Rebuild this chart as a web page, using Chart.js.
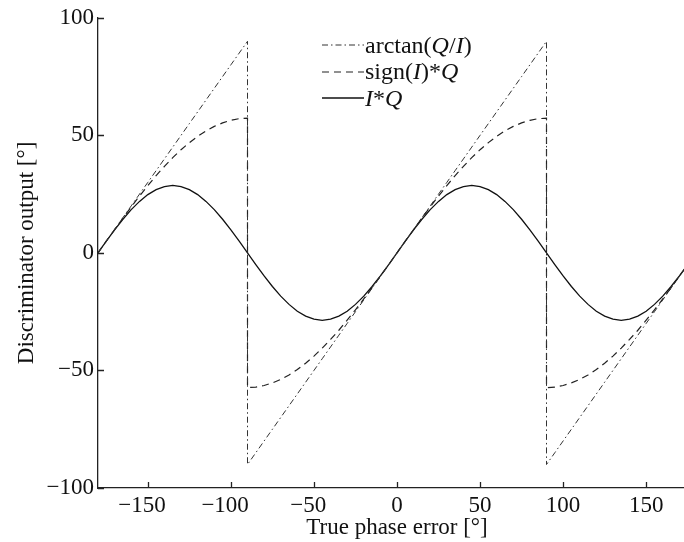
<!DOCTYPE html>
<html>
<head>
<meta charset="utf-8">
<script src="https://cdn.jsdelivr.net/npm/chart.js@4.4.1/dist/chart.umd.min.js"></script>
<style>
  html, body { margin: 0; padding: 0; background: #fff; overflow: hidden; }
  #wrap { position: relative; width: 696px; height: 542px; }
  #legend { position: absolute; left: 322px; top: 32px; font-family: 'Liberation Serif', 'Times New Roman', serif; font-size: 24px; color: #111; }
  #legend div { height: 26.5px; display: flex; align-items: center; white-space: nowrap; }
  #legend svg { width: 42px; height: 4px; margin-right: 1px; }
  #legend i { font-style: italic; }
</style>
</head>
<body>
<div id="wrap">
  <canvas id="chart" width="696" height="542"></canvas>
  <div id="legend">
    <div><svg><line x1="0" y1="2" x2="42" y2="2" stroke="#333" stroke-width="1" stroke-dasharray="6 3 1.5 3"/></svg>arctan(<i>Q</i>/<i>I</i>)</div>
    <div><svg><line x1="0" y1="2" x2="42" y2="2" stroke="#222" stroke-width="1.2" stroke-dasharray="7 5"/></svg>sign(<i>I</i>)*<i>Q</i></div>
    <div><svg><line x1="0" y1="2" x2="42" y2="2" stroke="#111" stroke-width="1.3"/></svg><i>I</i>*<i>Q</i></div>
  </div>
</div>
<script>
// true phase error [deg]; -90 and 90 appear twice for the jumps
const phase = [
  -180, -175, -170, -165, -160, -155, -150, -145, -140, -135, -130, -125, -120, -115, -110, -105, -100, -95, -90,
  -90, -85, -80, -75, -70, -65, -60, -55, -50, -45, -40, -35, -30, -25, -20, -15, -10, -5, 0,
  5, 10, 15, 20, 25, 30, 35, 40, 45, 50, 55, 60, 65, 70, 75, 80, 85, 90,
  90, 95, 100, 105, 110, 115, 120, 125, 130, 135, 140, 145, 150, 155, 160, 165, 170, 175, 180
]

const arctanOut = [
  0, 5, 10, 15, 20, 25, 30, 35, 40, 45, 50, 55, 60, 65, 70, 75, 80, 85, 90,
  -90, -85, -80, -75, -70, -65, -60, -55, -50, -45, -40, -35, -30, -25, -20, -15, -10, -5, 0,
  5, 10, 15, 20, 25, 30, 35, 40, 45, 50, 55, 60, 65, 70, 75, 80, 85, 90,
  -90, -85, -80, -75, -70, -65, -60, -55, -50, -45, -40, -35, -30, -25, -20, -15, -10, -5, 0
]

const signQOut = [
  0, 5.0, 9.9, 14.8, 19.6, 24.2, 28.6, 32.9, 36.8, 40.5, 43.9, 46.9, 49.6, 51.9, 53.8, 55.3, 56.4, 57.1, 57.3,
  -57.3, -57.1, -56.4, -55.3, -53.8, -51.9, -49.6, -46.9, -43.9, -40.5, -36.8, -32.9, -28.6, -24.2, -19.6, -14.8, -9.9, -5.0, 0,
  5.0, 9.9, 14.8, 19.6, 24.2, 28.6, 32.9, 36.8, 40.5, 43.9, 46.9, 49.6, 51.9, 53.8, 55.3, 56.4, 57.1, 57.3,
  -57.3, -57.1, -56.4, -55.3, -53.8, -51.9, -49.6, -46.9, -43.9, -40.5, -36.8, -32.9, -28.6, -24.2, -19.6, -14.8, -9.9, -5.0, 0
]

const iqOut = [
  0, 5.0, 9.8, 14.3, 18.4, 21.9, 24.8, 26.9, 28.2, 28.7, 28.2, 26.9, 24.8, 21.9, 18.4, 14.3, 9.8, 5.0, 0,
  0, -5.0, -9.8, -14.3, -18.4, -21.9, -24.8, -26.9, -28.2, -28.7, -28.2, -26.9, -24.8, -21.9, -18.4, -14.3, -9.8, -5.0, 0,
  5.0, 9.8, 14.3, 18.4, 21.9, 24.8, 26.9, 28.2, 28.7, 28.2, 26.9, 24.8, 21.9, 18.4, 14.3, 9.8, 5.0, 0,
  0, -5.0, -9.8, -14.3, -18.4, -21.9, -24.8, -26.9, -28.2, -28.7, -28.2, -26.9, -24.8, -21.9, -18.4, -14.3, -9.8, -5.0, 0
]

const xTicks = [-150, -100, -50, 0, 50, 100, 150]
const yTicks = [-100, -50, 0, 50, 100]

const toPoints = (ys) => phase.map((p, i) => ({ x: p, y: ys[i] }))
const minus = (v) => String(v).replace("-", "\u2212")
// digits sit on the tick, the minus sign hangs to the left
const minusHang = (v) => v < 0 ? minus(v) + "\u2002" : String(v)

// matlab style ticks pointing into the plot
const innerTicks = {
  id: "innerTicks",
  afterDraw(chart) {
    const { ctx, chartArea, scales } = chart
    ctx.save()
    ctx.strokeStyle = "#222"
    ctx.lineWidth = 1.3
    ctx.beginPath()
    xTicks.forEach(v => {
      const px = Math.round(scales.x.getPixelForValue(v)) + 0.5
      ctx.moveTo(px, chartArea.bottom)
      ctx.lineTo(px, chartArea.bottom - 6)
    })
    yTicks.forEach(v => {
      const py = Math.round(scales.y.getPixelForValue(v)) + 0.5
      ctx.moveTo(chartArea.left, py)
      ctx.lineTo(chartArea.left + 6, py)
    })
    ctx.stroke()
    ctx.restore()
  }
}

Chart.defaults.font.family = "'Liberation Serif', 'Times New Roman', serif"
Chart.defaults.font.size = 23
Chart.defaults.color = "#111"

new Chart(document.getElementById("chart"), {
  type: "line",
  data: {
    datasets: [
      {
        label: "arctan(Q/I)",
        data: toPoints(arctanOut),
        borderColor: "#333",
        borderWidth: 1,
        borderDash: [6, 3, 1.5, 3]
      },
      {
        label: "sign(I)*Q",
        data: toPoints(signQOut),
        borderColor: "#222",
        borderWidth: 1.2,
        borderDash: [7, 5]
      },
      {
        label: "I*Q",
        data: toPoints(iqOut),
        borderColor: "#111",
        borderWidth: 1.3
      }
    ]
  },
  options: {
    responsive: false,
    animation: false,
    layout: { padding: { top: 16, right: 0, bottom: 0, left: 0 } },
    elements: {
      point: { radius: 0 },
      line: { tension: 0 }
    },
    scales: {
      x: {
        type: "linear",
        min: -180,
        max: 180,
        afterBuildTicks: (scale) => { scale.ticks = xTicks.map(v => ({ value: v })) },
        afterFit: (scale) => { scale.height = 54 },
        grid: { display: false, drawTicks: false, tickLength: 0 },
        border: { display: true, color: "#222", width: 1.3 },
        ticks: { padding: 4, maxRotation: 0, callback: minusHang },
        title: { display: true, text: "True phase error [°]", padding: { top: 0, bottom: 0 } }
      },
      y: {
        min: -100,
        max: 100,
        afterBuildTicks: (scale) => { scale.ticks = yTicks.map(v => ({ value: v })) },
        afterFit: (scale) => { scale.width = 98 },
        grid: { display: false, drawTicks: false, tickLength: 0 },
        border: { display: true, color: "#222", width: 1.3 },
        ticks: { padding: 4, callback: minus },
        title: { display: true, text: "Discriminator output [°]", padding: { top: 13, bottom: 0 } }
      }
    },
    plugins: {
      legend: { display: false },
      tooltip: { enabled: false }
    }
  },
  plugins: [innerTicks]
})
</script>
</body>
</html>
